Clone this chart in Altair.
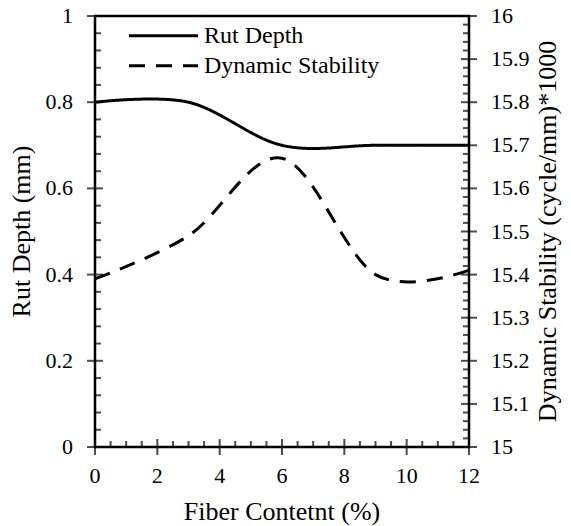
import altair as alt
import pandas as pd

# Measured values: rut depth (mm) and dynamic stability (thousand cycles/mm)
fiber = [0, 3, 6, 9, 12]
rut_depth = [0.80, 0.80, 0.70, 0.70, 0.70]
dyn_stability = [15.39, 15.49, 15.67, 15.40, 15.41]
series_names = ["Rut Depth", "Dynamic Stability"]

# Tick positions (major ticks cross the frame, minor ticks point inward)
x_major = [0, 2, 4, 6, 8, 10, 12]
x_minor = [v / 2 for v in range(1, 24) if v % 4 != 0]
rut_major = [0, 0.2, 0.4, 0.6, 0.8, 1.0]
rut_minor = [round(v * 0.04, 2) for v in range(1, 25) if v % 5 != 0]
ds_major = [round(15 + v * 0.1, 1) for v in range(0, 11)]
ds_minor = [round(15 + v * 0.02, 2) for v in range(1, 50) if v % 5 != 0]

# The right scale (15-16) spans the same height as the left one (0-1),
# so stability values are drawn on the shared scale shifted by its base.
DS_BASE = 15

x_title = "Fiber Contetnt (%)"
rut_title = "Rut Depth (mm)"
ds_title = "Dynamic  Stability (cycle/mm)*1000"

FONT = "Liberation Serif"
LABEL_SIZE = 22
TITLE_SIZE = 26

df_rut = pd.DataFrame({"fiber": fiber, "value": rut_depth, "series": series_names[0]})
df_ds = pd.DataFrame({"fiber": fiber, "value": dyn_stability, "series": series_names[1]})

x_scale = alt.Scale(domain=[0, 12], nice=False, zero=False)
y_scale = alt.Scale(domain=[0, 1], nice=False)

X = lambda f: alt.X(f, scale=x_scale, axis=None)
Y = lambda f: alt.Y(f, scale=y_scale, axis=None)
XD = lambda v: alt.XDatum(v, axis=None)
YD = lambda v: alt.YDatum(v, axis=None)

dash = alt.StrokeDash(
    "series:N",
    scale=alt.Scale(domain=series_names, range=[[1, 0], [16, 11]]),
    legend=alt.Legend(
        title=None,
        orient="none",
        legendX=55.5,
        legendY=6.7,
        direction="vertical",
        symbolType="M-3,0H3",
        symbolSize=529,
        symbolStrokeWidth=3,
        symbolStrokeColor="black",
        labelFont=FONT,
        labelFontSize=24,
        labelColor="black",
        labelOffset=27.5,
        rowPadding=5,
        padding=0,
        labelLimit=0,
    ),
)

rut_line = alt.Chart(df_rut).mark_line(
    color="black", strokeWidth=3, interpolate="cardinal"
).encode(x=X("fiber:Q"), y=Y("value:Q"), strokeDash=dash)

ds_line = alt.Chart(df_ds).transform_calculate(
    pos=f"datum.value - {DS_BASE}"
).mark_line(
    color="black", strokeWidth=3, interpolate="cardinal"
).encode(x=X("fiber:Q"), y=Y("pos:Q"), strokeDash=dash)


def table(values):
    return alt.Chart(pd.DataFrame({"v": values})).transform_calculate(
        pos=f"datum.v - {DS_BASE}"
    )


def ticks(values, **mark):
    return table(values).mark_tick(color="black", thickness=2, **mark)


def labels(values, **mark):
    return table(values).mark_text(font=FONT, fontSize=LABEL_SIZE, color="black", **mark)


def title(text, **mark):
    return alt.Chart(pd.DataFrame({"t": [text]})).mark_text(
        font=FONT, fontSize=TITLE_SIZE, color="black", **mark
    )


# Tick labels
x_labels = labels(x_major, align="center", baseline="top", yOffset=19).encode(
    x=X("v:Q"), y=YD(0), text=alt.Text("v:Q", format="d"))
rut_labels = labels(rut_major, align="right", baseline="middle", xOffset=-22).encode(
    x=XD(0), y=Y("v:Q"), text=alt.Text("v:Q", format=".1~f"))
ds_labels = labels(ds_major, align="left", baseline="middle", xOffset=22).encode(
    x=XD(12), y=Y("pos:Q"), text=alt.Text("v:Q", format=".1~f"))

# Axis titles
x_title_mark = title(x_title, align="center", baseline="alphabetic", yOffset=73).encode(
    x=XD(6), y=YD(0), text="t:N")
rut_title_mark = title(rut_title, angle=270, align="center", baseline="middle", xOffset=-73).encode(
    x=XD(0), y=YD(0.5), text="t:N")
ds_title_mark = title(ds_title, angle=270, align="center", baseline="middle", xOffset=79).encode(
    x=XD(12), y=YD(0.5), text="t:N")

# Tick marks, drawn last
x_major_ticks = ticks(x_major, orient="vertical", size=16).encode(x=X("v:Q"), y=YD(0))
x_minor_ticks = ticks(x_minor, orient="vertical", size=6, yOffset=-3).encode(x=X("v:Q"), y=YD(0))
rut_major_ticks = ticks(rut_major, orient="horizontal", size=16).encode(x=XD(0), y=Y("v:Q"))
rut_minor_ticks = ticks(rut_minor, orient="horizontal", size=6, xOffset=3).encode(x=XD(0), y=Y("v:Q"))
ds_major_ticks = ticks(ds_major, orient="horizontal", size=16).encode(x=XD(12), y=Y("pos:Q"))
ds_minor_ticks = ticks(ds_minor, orient="horizontal", size=6, xOffset=-3).encode(x=XD(12), y=Y("pos:Q"))

chart = (
    alt.layer(
        rut_line, ds_line,
        x_labels, rut_labels, ds_labels,
        x_title_mark, rut_title_mark, ds_title_mark,
        x_major_ticks, x_minor_ticks, rut_major_ticks, rut_minor_ticks,
        ds_major_ticks, ds_minor_ticks,
    )
    .properties(
        width=374,
        height=431,
        padding={"left": 95, "top": 16, "right": 102, "bottom": 79},
        autosize=alt.AutoSizeParams(type="none"),
        background="white",
    )
    .configure_view(stroke="black", strokeWidth=2.5)
)

chart.save("out.html", embed_options={"renderer": "svg", "actions": False})
